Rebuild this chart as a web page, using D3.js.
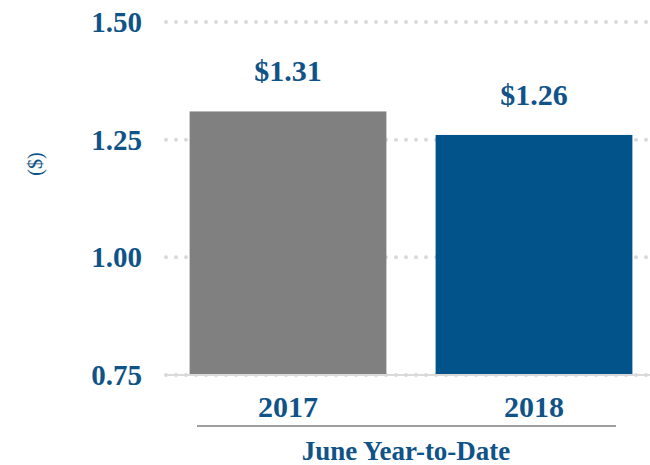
<!DOCTYPE html>
<html>
<head>
<meta charset="utf-8">
<script src="https://cdn.jsdelivr.net/npm/d3@7"></script>
<style>
  body { margin: 0; background: #fff; }
  text { font-family: "Liberation Serif", serif; }
</style>
</head>
<body>
<div id="chart"></div>
<script>
const years = ["2017", "2018"];
const values = [1.31, 1.26];
const labels = ["$1.31", "$1.26"];
const yTicks = [0.75, 1.00, 1.25, 1.50];
const barColors = ["#808080", "#02538a"];
const textBlue = "#0f5388";

const width = 650, height = 465;

const svg = d3.select("#chart").append("svg")
    .attr("width", width)
    .attr("height", height);

const x = d3.scaleBand()
    .domain(years)
    .range([165, 657])
    .paddingInner(0.2)
    .paddingOuter(0.1);

const y = d3.scaleLinear()
    .domain([0.75, 1.5])
    .range([375, 22]);

// dotted grid
svg.append("g").selectAll("line")
    .data(yTicks)
    .join("line")
    .attr("x1", 166)
    .attr("x2", 650)
    .attr("y1", d => y(d))
    .attr("y2", d => y(d))
    .attr("stroke", "#d9d9d9")
    .attr("stroke-width", 4)
    .attr("stroke-linecap", "round")
    .attr("stroke-dasharray", "0 10");

// y axis tick labels
const yAxis = d3.axisLeft(y).tickValues(yTicks).tickFormat(d3.format(".2f")).tickSize(0).tickPadding(0);
svg.append("g")
    .attr("transform", "translate(142,0)")
    .call(yAxis)
    .call(g => g.select(".domain").remove())
    .call(g => g.selectAll("text")
        .attr("fill", textBlue)
        .attr("font-family", "Liberation Serif")
        .attr("font-weight", "bold")
        .attr("font-size", 29)
        .attr("dy", "0.33em"));

// bars
svg.append("g").selectAll("rect")
    .data(values)
    .join("rect")
    .attr("x", (d, i) => x(years[i]))
    .attr("width", x.bandwidth())
    .attr("y", d => y(d))
    .attr("height", d => y(0.75) - y(d))
    .attr("fill", (d, i) => barColors[i]);

// value labels
svg.append("g").selectAll("text")
    .data(values)
    .join("text")
    .attr("x", (d, i) => x(years[i]) + x.bandwidth() / 2)
    .attr("y", d => y(d) - 30)
    .attr("text-anchor", "middle")
    .attr("fill", textBlue)
    .attr("font-weight", "bold")
    .attr("font-size", 30)
    .text((d, i) => labels[i]);

// baseline
svg.append("line")
    .attr("x1", 166).attr("x2", 650)
    .attr("y1", y(0.75)).attr("y2", y(0.75))
    .attr("stroke", "#d9d9d9")
    .attr("stroke-width", 2);

// x axis category labels
const xAxis = d3.axisBottom(x).tickSize(0).tickPadding(0);
svg.append("g")
    .attr("transform", "translate(0,417)")
    .call(xAxis)
    .call(g => g.select(".domain").remove())
    .call(g => g.selectAll("text")
        .attr("fill", textBlue)
        .attr("font-family", "Liberation Serif")
        .attr("font-weight", "bold")
        .attr("font-size", 30)
        .attr("dy", 0));

// group line
svg.append("line")
    .attr("x1", 197).attr("x2", 616)
    .attr("y1", 426).attr("y2", 426)
    .attr("stroke", "#7f7f7f")
    .attr("stroke-width", 1.5);

// group title
svg.append("text")
    .attr("x", 406)
    .attr("y", 460)
    .attr("text-anchor", "middle")
    .attr("fill", textBlue)
    .attr("font-weight", "bold")
    .attr("font-size", 27)
    .text("June Year-to-Date");

// y axis title
svg.append("text")
    .attr("transform", "translate(35,164) rotate(-90)")
    .attr("text-anchor", "middle")
    .attr("dy", "0.33em")
    .attr("fill", textBlue)
    .attr("font-size", 20)
    .text("($)");
</script>
</body>
</html>
